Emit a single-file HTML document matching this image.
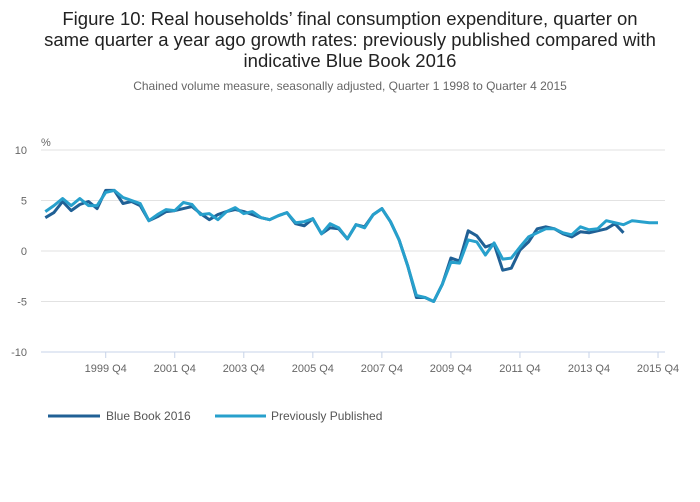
<!DOCTYPE html>
<html><head><meta charset="utf-8"><style>
body{margin:0;background:#fff;font-family:"Liberation Sans",sans-serif;}
#wrap{position:relative;width:700px;height:502px;overflow:hidden;}
</style></head><body>
<div id="wrap">
<svg id="chart" width="700" height="502">
<text x="350" y="25" text-anchor="middle" font-size="18.5" fill="#222">Figure 10: Real households’ final consumption expenditure, quarter on</text>
<text x="350" y="46" text-anchor="middle" font-size="18.5" fill="#222">same quarter a year ago growth rates: previously published compared with</text>
<text x="350" y="67" text-anchor="middle" font-size="18.5" fill="#222">indicative Blue Book 2016</text>
<text x="350" y="90" text-anchor="middle" font-size="12" fill="#666">Chained volume measure, seasonally adjusted, Quarter 1 1998 to Quarter 4 2015</text>
<text x="41" y="146" font-size="11" fill="#666">%</text>
<g id="grid"></g><g id="xaxis"></g><g id="series"></g>
<g>
<line x1="48" y1="416" x2="100" y2="416" stroke="#206095" stroke-width="3"/>
<text x="106" y="420" font-size="12" fill="#555">Blue Book 2016</text>
<line x1="215" y1="416" x2="266" y2="416" stroke="#27a0cc" stroke-width="3"/>
<text x="271" y="420" font-size="12" fill="#555">Previously Published</text>
</g>
</svg>
</div>
<script>
const yTicks=[10,5,0,-5,-10];
const xTickLabels=["1999 Q4","2001 Q4","2003 Q4","2005 Q4","2007 Q4","2009 Q4","2011 Q4","2013 Q4","2015 Q4"];
const xTickIndex=[7,15,23,31,39,47,55,63,71];
const previouslyPublished=[3.9,4.5,5.2,4.5,5.2,4.5,4.5,5.8,6.0,5.3,5.0,4.7,3.0,3.6,4.1,4.0,4.8,4.6,3.6,3.7,3.1,3.9,4.3,3.7,3.9,3.3,3.1,3.5,3.8,2.8,2.9,3.2,1.7,2.7,2.3,1.2,2.6,2.3,3.6,4.2,2.9,1.1,-1.5,-4.4,-4.6,-5.0,-3.3,-1.1,-1.2,1.1,0.9,-0.4,0.8,-0.8,-0.7,0.4,1.4,1.8,2.2,2.2,1.8,1.6,2.4,2.1,2.2,3.0,2.8,2.6,3.0,2.9,2.8,2.8];
const blueBook2016=[3.3,3.8,4.9,4.0,4.6,4.9,4.2,6.0,6.0,4.7,4.9,4.5,3.0,3.4,3.9,4.0,4.2,4.4,3.7,3.1,3.6,3.9,4.1,3.9,3.6,3.3,3.1,3.5,3.8,2.7,2.5,3.2,1.7,2.3,2.2,1.2,2.6,2.4,3.6,4.2,2.9,1.1,-1.5,-4.6,-4.6,-5.0,-3.3,-0.7,-1.0,2.0,1.5,0.4,0.7,-1.9,-1.7,0.1,0.9,2.2,2.4,2.2,1.7,1.4,1.9,1.8,2.0,2.2,2.7,1.8];
const NS="http://www.w3.org/2000/svg";
const x=i=>45.3+i*8.63;
const y=v=>251-v*10.1;
const grid=document.getElementById('grid');
yTicks.forEach(t=>{
  const l=document.createElementNS(NS,'line');
  l.setAttribute('x1',41);l.setAttribute('x2',665);l.setAttribute('y1',y(t));l.setAttribute('y2',y(t));
  l.setAttribute('stroke',t===-10?'#c7d3e8':'#e2e2e2');l.setAttribute('stroke-width',1);
  
  
  grid.appendChild(l);
  const tx=document.createElementNS(NS,'text');
  tx.setAttribute('x',27);tx.setAttribute('y',y(t)+4);tx.setAttribute('text-anchor','end');
  tx.setAttribute('font-size',11);tx.setAttribute('fill','#666');tx.textContent=t;
  
  
  grid.appendChild(tx);
});
const xa=document.getElementById('xaxis');
xTickIndex.forEach((idx,k)=>{
  const l=document.createElementNS(NS,'line');
  l.setAttribute('x1',x(idx));l.setAttribute('x2',x(idx));l.setAttribute('y1',352);l.setAttribute('y2',358);
  l.setAttribute('stroke','#c7d3e8');
  
  
  xa.appendChild(l);
  const tx=document.createElementNS(NS,'text');
  tx.setAttribute('x',x(idx));tx.setAttribute('y',372);tx.setAttribute('text-anchor','middle');
  tx.setAttribute('font-size',11);tx.setAttribute('fill','#666');tx.textContent=xTickLabels[k];
  
  
  xa.appendChild(tx);
});
const sg=document.getElementById('series');
function drawLine(arr,color,name){
  const p=document.createElementNS(NS,'polyline');
  p.setAttribute('points',arr.map((v,i)=>x(i).toFixed(1)+','+y(v).toFixed(1)).join(' '));
  p.setAttribute('fill','none');p.setAttribute('stroke',color);p.setAttribute('stroke-width',3);
  p.setAttribute('stroke-linejoin','round');
  
  
  sg.appendChild(p);
}
drawLine(blueBook2016,'#206095','blue-book-2016-line');
drawLine(previouslyPublished,'#27a0cc','previously-published-line');
</script>
</body></html>
